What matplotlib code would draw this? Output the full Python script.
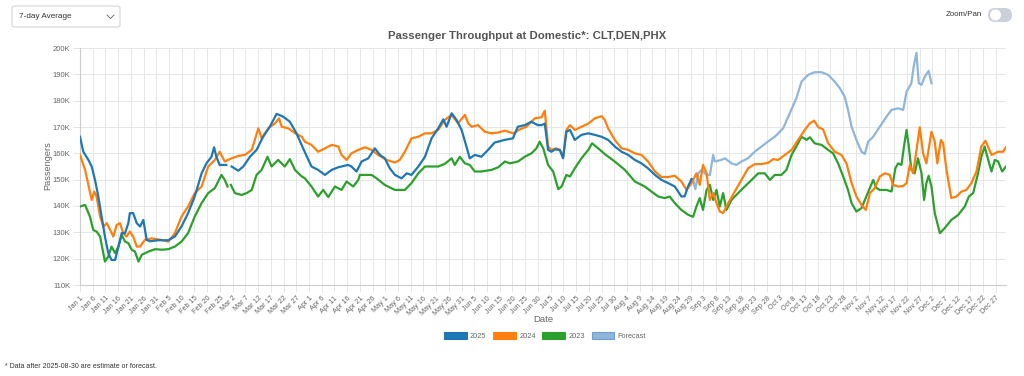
import numpy as np
import matplotlib
matplotlib.use("Agg")
import matplotlib.pyplot as plt
from matplotlib.patches import FancyBboxPatch, Patch, Circle
from matplotlib.lines import Line2D

plt.rcParams['font.family'] = ['Liberation Sans', 'DejaVu Sans']

# ---------------- data (values in thousands of passengers) ----------------
nan = float('nan')
days_2025 = [0,1.3,3.3,4.6,5.9,7.2,8.5,9.8,11.1,12.4,13.8,15.1,16.4,17.7,19,19.6,20.9,22.3,23.6,24.9,26.2,27.5,30.8,34.7,37.3,39.9,42.5,45.1,47.8,49.7,51.7,52.7,53.6,54.9,57.5,58.5,59.6,62.2,64.2,66.8,69.4,72,74.6,77.3,79.9,82.5,85.1,87.7,90.4,91,93.6,96.3,98.9,101.5,105.4,106.7,108.7,110.7,113.3,115.9,117.9,119.8,121.8,123.8,126.4,128.4,130.3,133,135.6,138.2,140.8,142.8,144.1,146.1,148,150,151.9,153.2,155.2,157.8,160.4,163,166.9,170.2,172.1,174.8,177.4,180,181.4,182.7,184,185.3,186.7,188.6,189.9,191.2,192.6,194.5,197.1,199.8,202.4,205,207.6,210.2,212.9,215.5,218.1,220.7,223.3,226,228.6,231.2,233.8,236.4,237.7,239,240.4]
vals_2025 = [166.3,160.6,157.5,155,149.9,143.6,136,128.4,122.2,119.5,119.5,124.6,129.7,129.7,133.5,137.3,137.3,133.5,132.2,134.7,127.1,126.6,127,127,128.4,132.2,137.3,143.6,152.4,156.2,158.7,162.3,158.7,155.6,155.6,nan,155,153.4,155,158.7,161.3,166.3,170.1,175,173.9,172,167.6,161.9,156.2,155,153.7,151.8,153.7,154.7,155.6,155,153.1,156.9,158.1,161.9,159.4,158.1,154.3,151.8,150.5,152.4,151.8,155,158.7,165.7,169.5,172.9,170.1,175.2,172.7,168.9,162.6,158.1,159.4,158.7,161.3,164.1,165.1,165.7,170.1,170.7,172,170.7,170.7,171.3,161.3,160.6,161.5,161.3,158.1,168.2,168.9,165.1,167,167.6,167,166.3,165.1,162.6,160.6,159.4,157.5,156.2,154.3,151.8,149.9,148.7,147.4,143.6,143.7,147.4,150.2]

days_fc = [240.4,241,241.9,243,244.3,246.3,247.6,248.9,249.5,252.1,253.5,256.1,258,260,262.6,265.2,267.9,270.5,273.1,276.4,279,281.6,283.6,286.2,288.8,291.5,294.1,296.7,298.7,300.6,301.9,303.3,305.2,307.2,308.5,309.8,311.8,314.4,317,319,321.6,323.6,324.9,326.8,327.7,328.8,329.7,330.8,332.1,333.6,334.7]
vals_fc = [150.2,150,146.4,152.4,153.7,151.8,151.8,159.4,156.9,157.5,158.1,156.2,155.6,156.9,158.1,160.6,162.6,164.5,166.3,169.5,175.2,180.9,187.2,189.8,190.8,190.8,189.8,187.2,184.7,181.5,176.5,170.1,165.1,160.6,159.8,164.4,166.3,170.1,173.9,176.5,177.1,176.5,183.4,186.6,192.9,198.2,186.6,186,189.2,191.3,186.6]

days_2024 = [0,2,3.3,4.6,5.6,6.5,7.9,9.2,10.5,11.8,13.1,14.4,15.7,17,18.3,19.6,20.9,22.3,23.6,25.5,28.2,32.1,34.7,37.3,39.9,42.5,45.1,47.8,50.4,53,54.9,56.9,59.6,62.2,64.8,67.5,70.1,71.4,74,76.7,78.2,79.3,81.9,84.6,87.2,88.4,91,93.6,96.3,98.9,101.5,102.8,104.8,106.7,109.4,112,114.6,117.2,120.5,123.8,125.7,127.7,130.3,133,135.6,138.2,140.8,143.4,146.1,148.6,151.3,152.6,153.9,156.5,159.1,161.7,164.4,167,170.3,172.9,175.5,178.8,181.4,182.7,184,185.3,187.3,188.6,189.9,191.2,192.6,194.5,197.1,199.8,202.4,205,206.3,207.6,210.2,212.9,215.5,218.1,220.7,223.3,226,228.6,231.2,233.8,236.4,238.4,240.4,242.3,243.6,244.9,246.3,247.6,248.9,250.2,251.5,252.8,254.8,257.4,260,262.6,265.2,267.9,270.5,272.5,274.4,277.1,279.7,282.3,284.9,286.9,288.6,290.2,292.1,294.1,296.7,299.3,301.3,303.3,305.2,307.2,308.9,310.5,312.4,314.4,316.4,318.3,319.6,321.6,323.6,324.9,326.2,327.5,328.8,330.1,331.4,332.7,334.7,336,337,338.4,339.3,340.6,342.5,344.5,346.5,348.4,350.4,352.4,354.3,355.9,358.3,360.9,362.8,364]
vals_2024 = [159.4,153.7,148,142.3,145.5,143.6,136,132.2,133.5,131,128.4,132.8,133.5,129.7,128.4,130.3,128.4,124.6,124.6,127.1,127.7,127.1,126.5,129.7,136,139.8,144.9,147.4,155,157.5,160.6,156.9,158.1,159,159.4,161.3,169.5,165.7,169.5,171.4,173.3,170.1,169.5,167.6,166.3,164.4,163.2,160.6,161.9,163.2,162.6,159.4,157.5,160,161.3,162.3,161.3,159.4,157.5,156.5,157.5,160.6,165.7,166.3,167.6,167.6,168.9,172.7,174.6,171.4,174.6,171.4,170.1,170.7,168.2,167.6,167.9,168.6,167.6,169.1,170.1,173.3,173.7,176.2,162.6,161.3,161.9,161.3,158.7,168.9,170.7,168.9,170.1,171.3,173.3,174.1,172.7,169.5,165.1,161.9,161.3,160,159.4,156.9,153.1,151,151,151.5,149.3,146.1,148.7,152.4,148,155.6,152.4,142.3,144.9,141.1,137.9,137.3,141.1,145.5,149.9,154.3,155.9,155.9,156.4,157.8,157.5,159.4,161.3,165.1,168.9,171.4,172.4,169.9,169.1,163.8,160.6,159.4,156.2,148.7,143.6,140.4,138.5,144.9,146.8,151.2,152.4,151.8,148,147.4,147.6,148.7,155.6,152.4,161.3,169.9,160,156.2,168.2,164.4,156.2,165.1,163.8,153.7,143,143.6,145.5,146.1,148.7,153.1,162.6,164.8,159.4,160.6,160.6,162.3]

days_2023 = [0,2,3.9,5.2,6.5,7.9,9.8,11.1,12.4,13.8,15.1,16.4,17.7,19,20.3,21.6,23,24.3,26.9,29.5,32.1,34.7,37.3,39.9,42.5,45.1,47.8,50.4,53,55.6,56.9,58,58.6,59.3,60.9,63.5,65.5,67.5,69.4,71.4,73.7,75.3,77.9,80.5,82.5,84.5,87.2,88.4,91,93.6,95.6,97.6,100.2,102.8,104.8,107.4,109.4,110,114.6,116.6,119.8,123.8,127.7,130.3,133,135.6,138.2,140.8,143.4,146.1,147.3,149.3,151.3,153.2,155.2,157.8,161.7,164.4,167,169,172.2,174.8,177.5,179.4,180.7,182.1,184,186,188,189.3,191.2,192.6,194.5,197.1,199.8,201.3,203.7,206.3,210.2,214.2,218.1,222,224.6,227.3,229.9,231.8,233.8,236.4,239,241,242.3,243.6,244.9,246.3,247.6,248.9,250.2,251.5,252.8,254.1,256.1,258.7,261.3,264,266.6,269.2,271.2,273.1,275.7,277.7,279.7,281.6,283.6,285.6,286.9,288.8,291.5,294.1,296,298,300,301.9,303.3,305.2,307.2,309.1,310.5,311.8,313.1,314.4,317,319,320.5,321.6,322.9,323.9,324.9,325.8,326.8,328.1,329.4,330.8,331.8,332.7,333.6,334.7,336,338,339.9,342.5,345.2,347.8,349.4,351.1,353,354.3,355.6,357,358.3,359.6,360.9,362.5,364]
vals_2023 = [139.8,140.4,136,130.9,130.3,128.4,118.9,120.8,124.6,122.1,124.6,129,126.5,125.9,123.4,122.7,118.9,121.5,122.7,123.6,123.4,123.6,124.6,126.5,129.7,136,141.1,144.9,146.8,151.8,149.9,147.4,nan,148,144.9,144.2,144.9,146.1,151.8,153.7,158.7,155,157.5,155,157.8,153.7,151.2,150.5,147.4,143.6,146.1,143.4,147.4,146.1,149.3,147.4,149.9,151.8,151.8,150.5,148,146.1,146.1,148.7,152.4,155,155,155,156,158.1,155.6,158.7,156.2,155.6,153.1,153.1,153.7,154.7,156.9,156.2,156.9,158.7,160,161.9,164.4,161.9,155.6,153.1,146.4,147.4,151.8,151.2,154.3,158.1,161.3,163.8,161.9,159.7,156.9,153.7,149.3,147.4,145.5,143.6,143,143.6,141.1,138.5,136.7,135.9,139.8,143,138.5,146.1,148,142.3,146.1,139.8,144.9,138.5,142.3,144.9,147.4,149.9,152.4,152.4,149.9,151.8,151.8,153.7,159.4,162.6,166.3,165.1,166.1,163.8,163.2,161.3,160,156.2,151.2,146.1,141.1,137.9,139.2,143.6,146.8,149.9,146.8,146.1,146.1,145.5,154.3,156.2,155.6,162.6,168.9,162.6,153.7,152.4,158.1,152.4,142.3,148.7,151.5,147.4,137.3,129.7,131.6,134.7,136.6,139.8,143.6,144.9,152.4,158.7,162.6,157.5,153.1,157.5,156.9,153.1,155]

tick_labels = ["Jan 1","Jan 6","Jan 11","Jan 16","Jan 21","Jan 26","Jan 31","Feb 5","Feb 10","Feb 15","Feb 20","Feb 25",
               "Mar 2","Mar 7","Mar 12","Mar 17","Mar 22","Mar 27","Apr 1","Apr 6","Apr 11","Apr 16","Apr 21","Apr 26",
               "May 1","May 6","May 11","May 16","May 21","May 26","May 31","Jun 5","Jun 10","Jun 15","Jun 20","Jun 25","Jun 30",
               "Jul 5","Jul 10","Jul 15","Jul 20","Jul 25","Jul 30","Aug 4","Aug 9","Aug 14","Aug 19","Aug 24","Aug 29",
               "Sep 3","Sep 8","Sep 13","Sep 18","Sep 23","Sep 28","Oct 3","Oct 8","Oct 13","Oct 18","Oct 23","Oct 28",
               "Nov 2","Nov 7","Nov 12","Nov 17","Nov 22","Nov 27","Dec 2","Dec 7","Dec 12","Dec 17","Dec 22","Dec 27"]
y_ticks = [110, 120, 130, 140, 150, 160, 170, 180, 190, 200]

series_names = ["2025", "2024", "2023", "Forecast"]
series_colors = ["#1f77b4", "#ff7f0e", "#2ca02c", "#8fb5da"]

# ---------------- figure ----------------
W, H = 1024, 376
fig = plt.figure(figsize=(W / 100, H / 100), dpi=100)
fig.patch.set_facecolor("white")

def fx(px):
    return px / W

def fy(py):
    return 1 - py / H

ax = fig.add_axes([fx(80), fy(285), fx(1006) - fx(80), fy(48) - fy(285)])
ax.set_facecolor("white")

ax.plot(days_fc, vals_fc, color=series_colors[3], lw=1.6, zorder=2, solid_joinstyle="round")
ax.plot(days_2023, vals_2023, color=series_colors[2], lw=1.6, zorder=3, solid_joinstyle="round")
ax.plot(days_2024, vals_2024, color=series_colors[1], lw=1.6, zorder=4, solid_joinstyle="round")
ax.plot(days_2025, vals_2025, color=series_colors[0], lw=1.6, zorder=5, solid_joinstyle="round")

ax.set_xlim(0, 364)
ax.set_ylim(110, 200)
xt = np.arange(len(tick_labels)) * 5
ax.set_xticks(xt)
ax.set_xticklabels(tick_labels, rotation=45, ha="right", va="top",
                   rotation_mode="anchor", fontsize=5.2, color="#666666")
ax.set_yticks(y_ticks)
ax.set_yticklabels([f"{v}K" for v in y_ticks], fontsize=5.5, color="#666666")
ax.grid(True, color="#e6e6e6", lw=0.7, zorder=0)
ax.tick_params(axis="both", length=5, color="#e6e6e6", width=0.7, pad=2)
for s in ["top", "right"]:
    ax.spines[s].set_visible(False)
ax.spines["left"].set_color("#cccccc")
ax.spines["bottom"].set_color("#cccccc")
ax.spines["left"].set_linewidth(0.8)
ax.spines["bottom"].set_linewidth(0.8)

fig.text(fx(48), fy(166), "Passengers", fontsize=6.6, color="#666666", ha="center",
         va="center", rotation=90)
fig.text(fx(543), fy(319), "Date", fontsize=6.8, color="#666666", ha="center", va="center")

fig.text(fx(527), fy(36), "Passenger Throughput at Domestic*: CLT,DEN,PHX", fontsize=8.2,
         fontweight="bold", color="#555555", ha="center", va="center")

# legend
handles = [Patch(facecolor=c, edgecolor=c if i < 3 else "#6f9dcc", lw=0.8, label=n)
           for i, (n, c) in enumerate(zip(series_names, series_colors))]
fig.legend(handles=handles, loc="center", bbox_to_anchor=(fx(545), fy(336)), ncol=4,
           frameon=False, fontsize=5.3, handlelength=3.1, handleheight=1.0,
           columnspacing=0.9, handletextpad=0.45, labelcolor="#666666")

# footnote
fig.text(fx(5), fy(366), "* Data after 2025-08-30 are estimate or forecast.", fontsize=5,
         color="#333333", ha="left", va="center")

# dropdown
dd = FancyBboxPatch((fx(12), fy(27)), fx(108), 21 / H, boxstyle="round,pad=0,rounding_size=0.004",
                    transform=fig.transFigure, facecolor="white", edgecolor="#cfcfcf", lw=0.7)
fig.patches.append(dd)
fig.text(fx(19), fy(16.5), "7-day Average", fontsize=5.9, color="#333333", ha="left", va="center")
fig.lines.append(Line2D([fx(107), fx(110.5), fx(114)], [fy(15), fy(18.5), fy(15)],
                        transform=fig.transFigure, color="#666666", lw=0.6))

# zoom/pan toggle
fig.text(fx(982), fy(15), "Zoom/Pan", fontsize=5.7, color="#333333", ha="right", va="center")
pill = FancyBboxPatch((fx(988), fy(22)), fx(24), 14 / H,
                      boxstyle="round,pad=0,rounding_size=0.0068", transform=fig.transFigure,
                      facecolor="#ccd1d9", edgecolor="none", mutation_aspect=W / H)
fig.patches.append(pill)
knob = Circle((995.5 / 100, (H - 15) / 100), radius=0.055, transform=fig.dpi_scale_trans,
              facecolor="white", edgecolor="none")
fig.patches.append(knob)

fig.savefig("out.png", dpi=100, facecolor="white")
